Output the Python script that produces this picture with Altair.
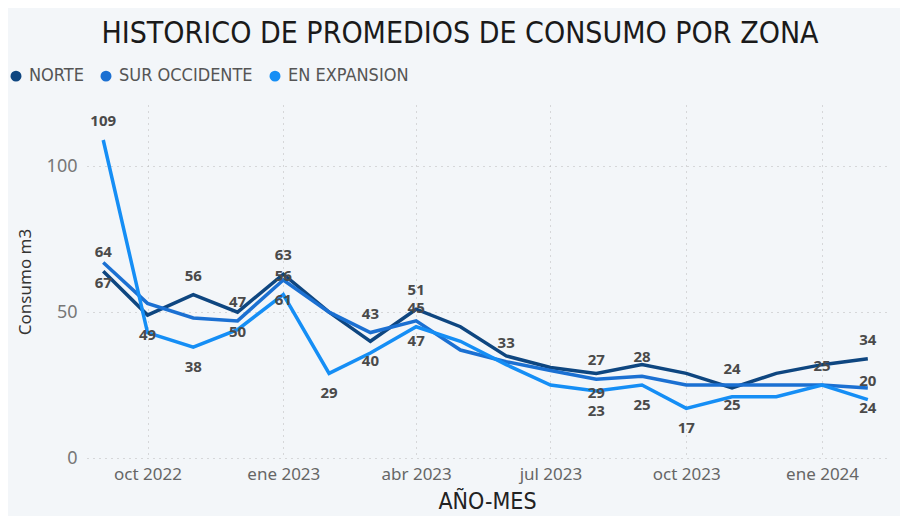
import altair as alt
import pandas as pd

months = ["2022-09", "2022-10", "2022-11", "2022-12", "2023-01", "2023-02",
          "2023-03", "2023-04", "2023-05", "2023-06", "2023-07", "2023-08",
          "2023-09", "2023-10", "2023-11", "2023-12", "2024-01", "2024-02"]

zonas = ["NORTE", "SUR OCCIDENTE", "EN EXPANSION"]
colors = ["#0e4680", "#1b70d2", "#158ef5"]

norte = [64, 49, 56, 50, 63, 50, 40, 51, 45, 35, 31, 29, 32, 29, 24, 29, 32, 34]
sur_occidente = [67, 53, 48, 47, 61, 50, 43, 47, 37, 33, 30, 27, 28, 25, 25, 25, 25, 24]
en_expansion = [109, 43, 38, 44, 56, 29, 36, 45, 40, 32, 25, 23, 25, 17, 21, 21, 25, 20]

# which data labels are shown (a = above the point, b = below, "" = hidden)
lab_norte = ["a", "b", "a", "b", "a", "", "b", "a", "", "", "", "b", "", "", "a", "", "", "a"]
lab_sur = ["b", "", "", "a", "b", "", "a", "b", "", "a", "", "a", "a", "", "b", "", "a", "b"]
lab_exp = ["a", "", "b", "", "a", "b", "", "a", "", "", "", "b", "b", "b", "", "", "", "a"]

rows = []
for zona, vals, labs in zip(zonas, [norte, sur_occidente, en_expansion],
                            [lab_norte, lab_sur, lab_exp]):
    for m, v, l in zip(months, vals, labs):
        rows.append({"mes": m + "-01T00:00:00", "zona": zona, "valor": v, "pos": l})
df = pd.DataFrame(rows)

cond_font = "DejaVu Sans Condensed, Liberation Sans Narrow, Roboto"
ui_font = "Noto Sans, Open Sans, DejaVu Sans"

month_expr = ("['ene','feb','mar','abr','may','jun','jul','ago','sep','oct','nov','dic']"
              "[month(datum.value)] + ' ' + year(datum.value)")

x = alt.X(
    "mes:T",
    title="AÑO-MES",
    scale=alt.Scale(domain=[alt.DateTime(year=2022, month=8, date=21),
                            alt.DateTime(year=2024, month=2, date=14)]),
    axis=alt.Axis(
        values=[alt.DateTime(year=2022, month=10, date=1),
                alt.DateTime(year=2023, month=1, date=1),
                alt.DateTime(year=2023, month=4, date=1),
                alt.DateTime(year=2023, month=7, date=1),
                alt.DateTime(year=2023, month=10, date=1),
                alt.DateTime(year=2024, month=1, date=1)],
        labelExpr=month_expr,
        labelFont=ui_font, labelFontSize=17, labelColor="#666666",
        labelPadding=8,
        titleFont=cond_font, titleFontSize=23, titleColor="#222222",
        titleFontWeight="normal", titlePadding=8,
        grid=True, gridDash=[1, 5], gridColor="#b8b8b8",
        domain=False, ticks=False,
    ),
)
y = alt.Y(
    "valor:Q",
    title="Consumo m3",
    scale=alt.Scale(domain=[0, 121], nice=False),
    axis=alt.Axis(
        values=[0, 50, 100],
        labelFont=ui_font, labelFontSize=18, labelColor="#777777",
        labelPadding=10,
        titleFont=ui_font, titleFontSize=17, titleColor="#333333",
        titleFontWeight="normal", titlePadding=12,
        grid=True, gridDash=[1, 5], gridColor="#b8b8b8",
        domain=False, ticks=False,
    ),
)
color = alt.Color(
    "zona:N",
    scale=alt.Scale(domain=zonas, range=colors),
    legend=alt.Legend(
        title=None, orient="none", direction="horizontal",
        legendX=-80, legendY=-38,
        symbolType="circle", symbolSize=30, symbolStrokeWidth=5.5,
        labelFont=cond_font, labelFontSize=18, labelColor="#555555",
        labelOffset=4, columnPadding=8,
    ),
)

base = alt.Chart(df)

lines = base.mark_line(strokeWidth=3.5).encode(x=x, y=y, color=color)

label_style = dict(font=ui_font, fontSize=15, fontWeight="bold", color="#4a4a4a",
                   baseline="middle", align="center")
above = base.transform_filter(alt.datum.pos == "a").mark_text(dy=-19, **label_style).encode(
    x="mes:T", y="valor:Q", text="valor:Q")
below = base.transform_filter(alt.datum.pos == "b").mark_text(dy=20, **label_style).encode(
    x="mes:T", y="valor:Q", text="valor:Q")

chart = alt.layer(lines, above, below).properties(
    width=800, height=353,
    title=alt.TitleParams(
        "HISTORICO DE PROMEDIOS DE CONSUMO POR ZONA",
        font=cond_font, fontSize=30, fontWeight="normal", color="#1a1a1a",
        anchor="middle", dx=-27, offset=18,
    ),
    background="#f3f6f9",
    padding={"left": 79, "top": 97, "right": 13, "bottom": 58},
    autosize=alt.AutoSizeParams(type="none"),
).configure_view(stroke=None)

chart.save("out.html", embed_options={"renderer": "svg", "actions": False})
